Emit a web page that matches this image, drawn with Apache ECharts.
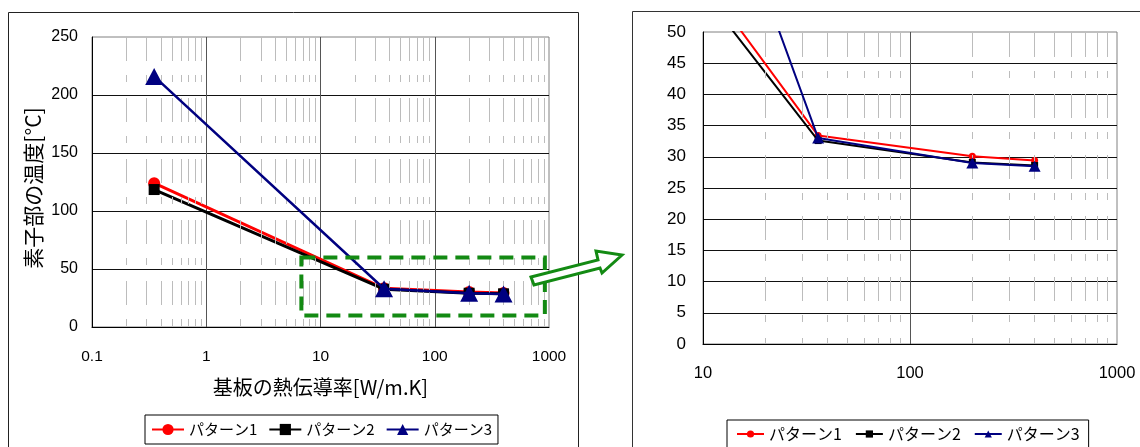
<!DOCTYPE html>
<html>
<head>
<meta charset="utf-8">
<script src="https://cdn.jsdelivr.net/npm/echarts@6/dist/echarts.min.js"></script>
<style>
html, body { margin: 0; padding: 0; background: #fff; }
#chart { width: 1140px; height: 447px; }
</style>
</head>
<body>
<div id="chart"></div>
<script>
// thermal conductivity of the board [W/m.K]
const conductivity = [0.35, 36, 200, 400];
// element temperature [°C]
const pattern1 = [124, 33.4, 30.1, 29.4];
const pattern2 = [118.5, 32.6, 29.1, 28.6];
const pattern3 = [216, 33.0, 29.0, 28.5];
const seriesNames = ['パターン1', 'パターン2', 'パターン3'];
const leftYTicks = [0, 250, 50];   // min, max, step
const rightYTicks = [0, 50, 5];
const leftDecades = [0.1, 1, 10, 100];
const rightDecades = [10, 100];
const minorSteps = [2, 3, 4, 5, 6, 7, 8, 9];
// region of the left chart enlarged on the right
const zoomBox = [[6.8, 60], [920, 10]];

const numFont = '"Liberation Sans", Arial, sans-serif';
const jpFont = '"Noto Sans CJK JP", sans-serif';

const chart = echarts.init(document.getElementById('chart'), null, { renderer: 'canvas' });

function minorValues(decades) {
    const values = [];
    decades.forEach(d => {
        minorSteps.forEach(s => values.push(+(d * s).toPrecision(6)));
    });
    return values;
}

function pairs(values) {
    return conductivity.map((x, i) => [x, values[i]]);
}

function makeSeries(gridIndex, small) {
    const looks = [
        { data: pattern1, color: '#ff0000', symbol: 'circle', size: small ? 7 : 12, width: small ? 2 : 3 },
        { data: pattern2, color: '#000000', symbol: 'rect', size: small ? 7 : 11, width: small ? 2 : 3 },
        { data: pattern3, color: '#000080', symbol: 'triangle', size: small ? [12, 11] : [18, 17], width: small ? 2 : 2.5 }
    ];
    const list = looks.map((look, i) => ({
        type: 'line',
        name: seriesNames[i],
        xAxisIndex: gridIndex,
        yAxisIndex: gridIndex,
        data: pairs(look.data),
        symbol: look.symbol,
        symbolSize: look.size,
        showAllSymbol: true,
        clip: true,
        z: 3 + i,
        itemStyle: { color: look.color },
        lineStyle: { color: look.color, width: look.width },
        emphasis: { disabled: true }
    }));
    // dashed minor grid lines (2..9 in each decade)
    list.unshift({
        type: 'line',
        name: 'minor-grid-' + gridIndex,
        xAxisIndex: gridIndex,
        yAxisIndex: gridIndex,
        data: [],
        z: 1,
        markLine: {
            silent: true,
            symbol: 'none',
            label: { show: false },
            emphasis: { disabled: true },
            lineStyle: {
                color: '#bcbcbc',
                width: 1,
                type: [7, 14, 24, 16],
                dashOffset: small ? 39 : 60
            },
            data: minorValues(gridIndex === 0 ? leftDecades : rightDecades).map(v => ({ xAxis: v }))
        }
    });
    return list;
}

function xAxisFor(gridIndex, min, max, margin, name) {
    return {
        type: 'log',
        logBase: 10,
        gridIndex: gridIndex,
        min: min,
        max: max,
        axisLine: { lineStyle: { color: '#000', width: 1 } },
        axisTick: { show: false },
        axisLabel: {
            margin: margin,
            color: '#000',
            fontSize: gridIndex === 0 ? 15.5 : 16.5,
            fontFamily: numFont,
            formatter: v => String(+(+v).toPrecision(6))
        },
        splitLine: {
            show: true,
            showMinLine: false,
            showMaxLine: false,
            lineStyle: { color: '#555', width: 1 }
        },
        name: name,
        nameLocation: 'middle',
        nameGap: 50,
        nameTextStyle: { color: '#000', fontSize: 20, fontFamily: jpFont }
    };
}

function yAxisFor(gridIndex, ticks, margin, fontSize, name) {
    return {
        type: 'value',
        gridIndex: gridIndex,
        min: ticks[0],
        max: ticks[1],
        interval: ticks[2],
        axisLine: { show: true, lineStyle: { color: '#000', width: 1 } },
        axisTick: { show: false },
        axisLabel: { margin: margin, color: '#000', fontSize: fontSize, fontFamily: numFont },
        splitLine: {
            show: true,
            showMaxLine: false,
            lineStyle: { color: '#111', width: 1 }
        },
        name: name,
        nameLocation: 'middle',
        nameGap: 48,
        nameTextStyle: { color: '#000', fontSize: 21, fontFamily: jpFont, padding: [0, 12, 0, 0] }
    };
}

function legendFor(opts) {
    return Object.assign({
        data: seriesNames,
        orient: 'horizontal',
        borderColor: '#000',
        borderWidth: 1,
        borderRadius: 0,
        backgroundColor: '#fff',
        selectedMode: false,
        lineStyle: { width: 2 }
    }, opts);
}

chart.setOption({
    animation: false,
    backgroundColor: '#fff',
    grid: [
        { left: 92, top: 37, width: 457, height: 290, show: true, borderColor: '#808080', borderWidth: 1 },
        { left: 703, top: 32, width: 414, height: 312, show: true, borderColor: '#808080', borderWidth: 1 }
    ],
    xAxis: [
        xAxisFor(0, 0.1, 1000, 22, '基板の熱伝導率[W/m.K]'),
        xAxisFor(1, 10, 1000, 21, '')
    ],
    yAxis: [
        yAxisFor(0, leftYTicks, 14, 16, '素子部の温度[°C]'),
        yAxisFor(1, rightYTicks, 17, 17, '')
    ],
    legend: [
        legendFor({
            left: 145, top: 415, itemWidth: 32, itemHeight: 14, itemGap: 11,
            padding: [7, 6], textStyle: { color: '#000', fontFamily: jpFont, fontSize: 15 }
        }),
        legendFor({
            left: 727, top: 420, itemWidth: 27, itemHeight: 9, itemGap: 13,
            padding: [6, 9], textStyle: { color: '#000', fontFamily: jpFont, fontSize: 16 }
        })
    ],
    series: makeSeries(0, false).concat(makeSeries(1, true))
});

// frames, zoom rectangle and arrow
const boxFrom = chart.convertToPixel({ gridIndex: 0 }, zoomBox[0]);
const boxTo = chart.convertToPixel({ gridIndex: 0 }, zoomBox[1]);

chart.setOption({
    graphic: [
        {
            type: 'rect', z: 0, silent: true,
            shape: { x: 8.5, y: 12.5, width: 570, height: 460 },
            style: { fill: 'none', stroke: '#222', lineWidth: 1 }
        },
        {
            type: 'rect', z: 0, silent: true,
            shape: { x: 632.5, y: 11.5, width: 530, height: 460 },
            style: { fill: 'none', stroke: '#333', lineWidth: 1 }
        },
        {
            type: 'rect', z: 50, silent: true,
            shape: {
                x: boxFrom[0], y: boxFrom[1],
                width: boxTo[0] - boxFrom[0], height: boxTo[1] - boxFrom[1]
            },
            style: { fill: 'none', stroke: '#138a13', lineWidth: 4, lineDash: [14, 8] }
        },
        {
            type: 'polygon', z: 60, silent: true,
            shape: {
                points: [[531, 277], [598, 260], [596, 251], [622, 255], [602, 273], [600, 268], [534, 285]]
            },
            style: { fill: '#fff', stroke: '#138a13', lineWidth: 3, lineJoin: 'miter' }
        }
    ]
});
</script>
</body>
</html>
